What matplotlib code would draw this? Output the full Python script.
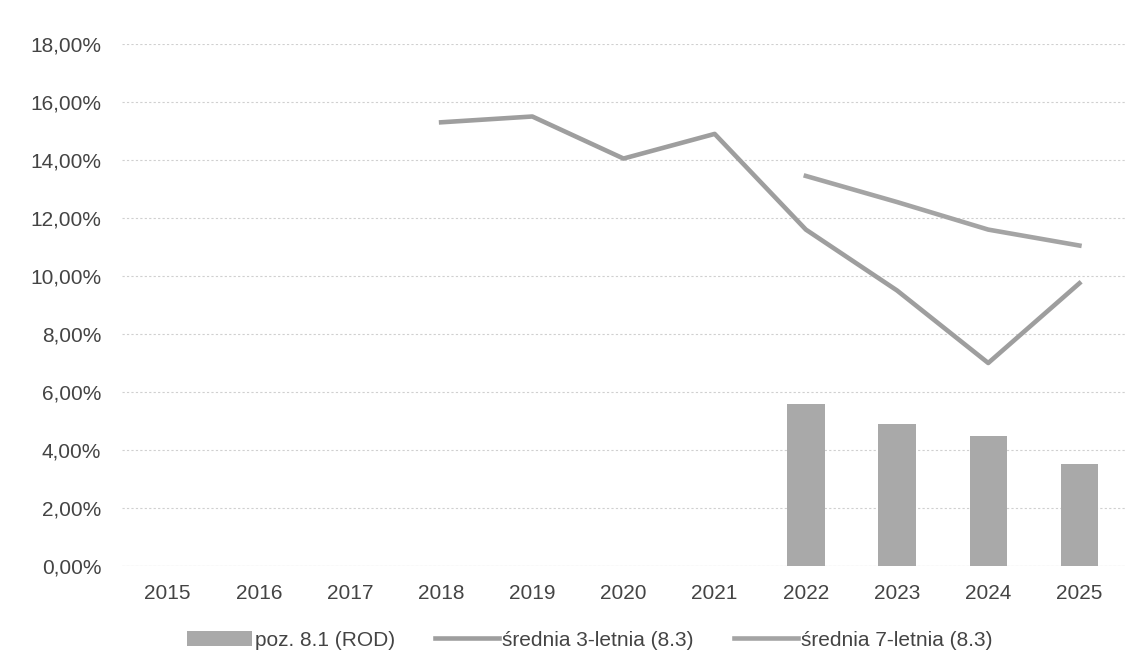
import matplotlib
matplotlib.use("Agg")
import matplotlib.pyplot as plt
import numpy as np
from matplotlib.ticker import FuncFormatter

plt.rcParams['font.family'] = ['Liberation Sans', 'DejaVu Sans']

# dane
lata = ["2015", "2016", "2017", "2018", "2019", "2020", "2021", "2022", "2023", "2024", "2025"]
rod = [None, None, None, None, None, None, None, 5.6, 4.9, 4.48, 3.52]
srednia_3 = [None, None, None, 15.3, 15.5, 14.05, 14.9, 11.6, 9.5, 7.0, 9.75]
srednia_7 = [None, None, None, None, None, None, None, 13.45, 12.55, 11.6, 11.05]

x = np.arange(len(lata))
to_arr = lambda v: np.array([np.nan if a is None else a for a in v], dtype=float)

fig = plt.figure(figsize=(11.48, 6.72), dpi=100)
ax = fig.add_axes([122 / 1148, 1 - 566 / 672, (1125 - 122) / 1148, (566 - 44) / 672])

b = ax.bar(x, np.nan_to_num(to_arr(rod)), width=0.41, color="#a9a9a9", label="poz. 8.1 (ROD)", zorder=2)
l3, = ax.plot(x, to_arr(srednia_3), color="#9e9e9e", lw=3.3, label="średnia 3-letnia (8.3)", zorder=3)
l7, = ax.plot(x, to_arr(srednia_7), color="#a4a4a4", lw=3.3, label="średnia 7-letnia (8.3)", zorder=3)

ax.set_xlim(-0.5, len(lata) - 0.5)
ax.set_ylim(0, 18)
ax.set_yticks(np.arange(0, 19, 2))
ax.yaxis.set_major_formatter(FuncFormatter(lambda v, p: f"{v:.2f}%".replace(".", ",")))
ax.set_xticks(x)
ax.set_xticklabels(lata)
ax.tick_params(axis="both", length=0, labelsize=15, colors="#444444")
ax.tick_params(axis="x", pad=13)
ax.tick_params(axis="y", pad=15)

ax.grid(axis="y", color="#d0d0d0", lw=0.8, ls=(0, (2, 2)), zorder=0)
for s in ax.spines.values():
    s.set_visible(False)
ax.axhline(0, color="#cfcfcf", lw=0.8, zorder=1)

fig.legend([b, l3, l7], [b.get_label(), l3.get_label(), l7.get_label()],
           loc="center", bbox_to_anchor=(590 / 1148, 1 - 640 / 672), ncol=3, frameon=False,
           fontsize=15, handlelength=3.1, handletextpad=0.15, columnspacing=1.9,
           labelcolor="#444444")

fig.savefig("out.png", dpi=100)
